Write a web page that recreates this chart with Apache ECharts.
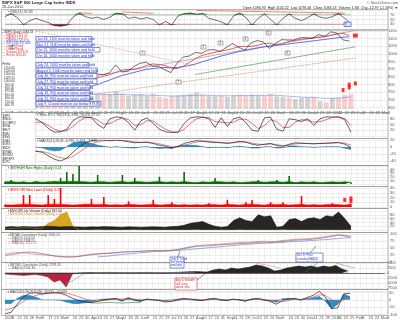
<!DOCTYPE html>
<html><head><meta charset="utf-8">
<script src="https://cdn.jsdelivr.net/npm/echarts@6.0.0/dist/echarts.min.js"></script>
<style>html,body{margin:0;padding:0;background:#fff}#c{width:400px;height:320px}</style>
</head><body><div id="c"></div>
<script>
// ---------- data (weekly) ----------
const weekLabels = ['2009','5','12','20','26','Feb','9','17','23','Mar','9','16','23','30','Apr','13','20','27','May','11','18','26','Jun','8','15','22','29','Jul','13','20','27','Aug','10','17','24','31','Sep','14','21','28','Oct','12','19','26','Nov','9','16','23','30','Dec','14','21','28','2010','11','19','25','Feb','8','16','22','Mar','8'];
const rsi = [62,74,58,28,45,55,45,38,24,22, 26,60,76,62,55,60,50,60,76,74, 55,60,52,58,50,28,42,27,65,74, 77,72,75,55,48,40,28,65,76,58, 27,55,73,50,28,55,73,55,45,58, 73,60,55,62,75,55,32];
const rsiTrend1 = [[12,79],[14,75]];
const rsiTrend2 = [[19,82],[24,76]];
const rsiTrend3 = [[31,88],[55,77]];
const closePx = [931.8,890.4,850.1,832.0,825.9,868.6,826.8,770.1,735.1,683.4, 756.6,768.5,815.9,842.5,856.6,869.6,866.2,877.5,929.2,882.9, 887.0,919.1,940.1,946.2,921.2,918.9,896.4,879.1,940.4,979.3, 987.5,1010.5,1004.1,1026.1,1028.9,1016.4,1042.7,1068.3,1044.4,1025.2, 1071.5,1087.7,1079.6,1036.2,1069.3,1093.5,1091.4,1091.5,1106.0,1106.4, 1102.5,1126.5,1115.1,1145.0,1136.0,1091.8,1084.5];
const maFast = [895,905,900,880,860,850,845,835,805,760, 735,740,755,790,820,845,855,865,880,895, 900,900,910,925,935,932,925,910,905,920, 945,970,990,1000,1010,1018,1025,1035,1048,1050, 1050,1055,1068,1070,1062,1065,1080,1088,1095,1100, 1104,1108,1112,1120,1130,1135,1120];
const maSlow = [900,895,885,875,865,860,855,845,830,810, 795,785,780,785,790,800,815,830,845,860, 870,880,890,900,905,910,912,910,912,918, 925,935,948,960,972,985,995,1005,1015,1022, 1030,1038,1045,1050,1055,1060,1065,1070,1075,1080, 1085,1090,1095,1100,1105,1110,1112];
const trendGray = [[15,858],[58,1160]];
const trendGreen = [[31,867],[57,1047]];
const trendBrown = [[0,656],[57,974]];
const trendPink = [[5,1150],[31,924]];
const priceMarks = [[55,765],[56,782],[56,800],[57,808]];
const priceTag = [[57,1120]];
const volume = [4.2,5.5,6.0,6.2,5.8,6.0,6.5,7.0,7.5,8.5, 7.8,8.0,6.5,6.8,6.0,6.5,6.8,6.5,7.8,7.0, 6.0,6.5,6.8,6.0,7.0,5.5,5.0,6.0,6.2,6.5, 6.8,7.5,6.5,6.0,5.8,6.0,5.5,6.2,6.5,6.0, 6.5,6.2,6.0,6.8,5.8,5.5,5.2,4.5,5.0,5.2, 5.5,3.5,3.0,5.0,5.2,6.5,6.8];
const volumeMA = [5.5,5.6,5.8,6.0,6.1,6.2,6.3,6.5,6.8,7.0, 7.2,7.3,7.2,7.0,6.8,6.7,6.6,6.5,6.6,6.6, 6.5,6.4,6.4,6.3,6.3,6.1,6.0,5.9,5.9,6.0, 6.1,6.2,6.3,6.2,6.1,6.0,6.0,6.0,6.1,6.1, 6.2,6.2,6.2,6.3,6.2,6.0,5.8,5.6,5.4,5.3, 5.3,5.0,4.8,4.9,5.0,5.2,5.5];
const stochK = [70,85,55,30,50,80,60,30,10,12, 25,70,90,88,85,50,30,80,90,85, 60,20,70,85,55,25,12,8,10,55, 85,90,88,80,35,85,40,80,88,60, 20,15,85,88,25,15,80,75,65,80, 45,80,90,88,90,75,10];
const stochD = [65,78,70,45,42,62,62,45,25,15, 18,40,68,85,88,72,52,55,72,85, 75,45,50,70,68,45,25,12,9,25, 55,80,88,86,65,62,58,62,78,78, 55,28,45,75,65,35,35,62,75,72, 62,65,75,88,88,82,45];
const macd = [5,3,-5,-12,-15,-12,-15,-25,-35,-40, -32,-15,0,12,18,20,20,18,20,18, 15,12,13,14,10,5,2,-3,2,10, 15,18,17,14,13,12,10,13,16,14, 8,5,8,10,4,2,8,12,11,10, 9,10,11,12,13,8,-1];
const macdSignal = [8,6,2,-4,-10,-12,-13,-17,-24,-31, -33,-27,-15,-3,8,15,18,19,19,19, 17,15,13,13,12,9,5,1,0,4, 10,14,16,16,14,13,12,12,14,14, 11,8,7,9,7,4,5,9,10,10, 10,10,10,11,12,11,6];
const macdHist = [-3,-3,-7,-8,-5,0,-2,-8,-11,-9, 1,12,15,15,10,5,2,-1,1,-1, -2,-3,0,1,-2,-4,-3,-4,2,6, 5,4,1,-2,-1,-1,-2,1,2,0, -3,-3,1,1,-3,-2,3,3,1,0, -1,0,1,1,1,-3,-7];
const greenBars = [6,11,5,6,4,7,5,6,8,17, 33,28,50,6,5,25,6,5,6,25, 5,17,6,5,6,20,5,6,5,33, 5,4,6,5,17,6,5,6,4,5, 6,11,5,6,11,5,22,4,6,5, 6,4,5,6,5,6,5];
const redBars = [5,4,5,25,25,5,4,25,17,40, 5,4,5,6,17,5,21,4,5,4, 12,5,4,5,15,4,5,10,4,5, 4,5,4,8,5,4,15,5,4,10, 15,5,4,10,5,10,4,5,23,4, 5,4,5,8,5,4,6];
const redMarks = [[55,15],[56,18],[56,12]];
const blackArea = [15,18,16,18,17,16,18,20,18,16, 18,17,16,15,17,16,18,17,16,15, 17,16,15,16,17,16,15,18,20,25, 35,40,45,30,20,15,18,50,65,50, 45,80,70,75,15,20,55,60,45,60, 65,55,75,70,95,60,20];
const goldArea = [5,8,10,12,12,8,10,35,50,80, 95,20,0,0,0,3,0,0,0,0, 0,3,0,0,0,0,0,0,0,0, 0,3,0,0,0,0,0,0,3,0, 0,0,0,0,0,3,0,0,0,0, 0,0,0,0,0,0,0];
const adBlack = [24,26,30,34,36,34,30,26,22,20, 19,18,20,23,26,28,30,31,33,35, 36,37,38,39,40,40,41,42,44,48, 52,56,57,58,60,62,63,64,66,67, 68,70,71,70,72,74,76,78,79,80, 82,85,88,92,96,93,89];
const adRed = [28,32,34,33,30,28,26,24,21,18, 17,18,21,25,28,30,31,32,34,36, 37,38,39,40,41,40,40,41,45,50, 54,58,60,61,63,64,66,68,70,70, 71,73,74,73,74,77,79,81,82,83, 85,88,91,94,97,95,92];
const adBlue = [null,null,null,null,null,null,null,null,null,null,null,null,null,null,null, 18,20,22,25,27, 29,31,33,35,37,38,39,40,41,43, 45,47,49,51,53,55,57,59,61,63, 64,66,67,68,69,70,72,73,74,76, 77,79,80,82,84,86,86];
const moValues = [-500,-800,-1000,-1200,-1000,-800,-1200,-2000,-4500,-3500, -7000,-500,0,100,200,100,200,300,200,100, 200,100,200,300,200,100,100,200,300,500, 600,700,600,500,1500,2000,1500,2500,2000,2500, 3000,4000,3500,2500,1000,1500,2500,3000,3500,3000, 3500,2800,3500,3000,3800,2000,1000];
const moLine = [null,null,null,null,null,null,null,null,null,null, -5000,-4000,-2000,-300,0,100,200,200,100,100, 200,200,100,200,200,100,100,200,200,300, 300,400];
const moTrendPink = [[41,5000],[45,2500]];
const moTrendGreen = [[49,500],[51,5000]];
const moTrendBlue = [[54,5000],[57,2500]];
const oscBlack = [-95,-85,-30,20,45,48,40,45,48,45, 30,10,-5,-15,-20,-10,0,5,10,-5, 15,0,-10,5,0,-5,-15,-10,0,10, 5,0,-5,5,10,0,-5,5,0,-10, 5,10,0,-10,-30,-5,5,10,0,15, 30,58,20,-60,-55,40,45];
const oscRed = [-70,-60,-40,-10,15,30,40,45,48,48, 45,35,20,5,-5,-10,-5,0,5,5, 5,5,0,0,0,-2,-8,-10,-5,3, 5,3,0,0,5,3,0,2,2,-3, 0,5,3,-3,-15,-12,-5,3,3,8, 18,35,30,0,-25,0,25];
const oscHist = [-25,-25,10,30,30,18,0,0,0,-3, -15,-25,-25,-20,-15,0,5,5,5,-10, 10,-5,-10,5,0,-3,-7,0,5,7, 0,-3,-5,5,5,-3,-5,3,-2,-7, 5,5,-3,-7,-15,7,10,7,-3,7, 12,23,-10,-60,-30,40,20];
const oscGreen = [null,null,null,null,null,null,null,null,null,null,null,null,null,null, -20,-22,-20,-18,-20,-22,-20,-18,-20];

// ---------- layout ----------
const P = [
  {top:10, h:19, min:10, max:90, iv:20, hide:[10,90]},
  {top:31, h:76.7, min:650, max:1150, iv:50},
  {top:87, h:22, min:0, max:10, noY:true, labels:true, noSplitX:true},
  {top:113, h:23, min:-10, max:110, iv:30, hide:[-10,110]},
  {top:140, h:21, min:-40, max:20, iv:20},
  {top:166, h:18, min:0, max:50, iv:10},
  {top:188, h:19, min:0, max:40, iv:10},
  {top:211, h:19, min:0, max:100, iv:20},
  {top:234, h:28, min:0, max:100, iv:25},
  {top:263, h:25, min:-7500, max:5000, iv:2500},
  {top:291, h:24, min:-100, max:60, iv:50, labels:true}
];
const grids=[], xAxes=[], yAxes=[];
P.forEach((p,i)=>{
  grids.push({left:5, right:12, top:p.top, height:p.h});
  xAxes.push({type:'category', gridIndex:i, data:weekLabels, boundaryGap:false,
    axisLine:{show:false}, axisTick:{show:false},
    axisLabel:{show:!!p.labels, interval:0, fontSize:4, color:'#555', align:'left', margin:1.5},
    splitLine:{show:!p.noSplitX, interval:0, lineStyle:{color:'#e2e2e2', width:0.5}}});
  yAxes.push({type:'value', gridIndex:i, position:'right', min:p.min, max:p.max, interval:p.iv, show:!p.noY,
    axisLine:{show:false}, axisTick:{show:false},
    axisLabel:{fontSize:4, color:'#555', margin:2, formatter:v => (p.hide && p.hide.includes(v)) ? '' : String(v)},
    splitLine:{lineStyle:{color:'#d8d8d8', width:0.5}}});
});
const L = (g, data, color, w, extra) => Object.assign({type:'line', xAxisIndex:g, yAxisIndex:g, data, symbol:'none',
  lineStyle:{color, width:w}, itemStyle:{color}, silent:true}, extra || {});
const A = (g, data, color, lineColor, extra) => L(g, data, lineColor, 0.5, Object.assign({areaStyle:{color, opacity:1}}, extra || {}));

const series = [
  // RSI
  L(0, rsi.map(()=>70), '#000', 0, {stack:'g', lineStyle:{width:0}}),
  L(0, rsi.map(v=>Math.max(0, v-70)), '#2f7d2f', 0.4, {stack:'g', areaStyle:{color:'#4b9a4b', opacity:1}}),
  L(0, rsi.map(v=>Math.min(v,30)), '#000', 0, {stack:'r', lineStyle:{width:0}}),
  L(0, rsi.map(v=>30-Math.min(v,30)), '#6b1a1a', 0.4, {stack:'r', areaStyle:{color:'#8b2020', opacity:1}}),
  L(0, rsi, '#333', 0.7),
  L(0, rsiTrend1, '#e03030', 0.6), L(0, rsiTrend2, '#e03030', 0.6), L(0, rsiTrend3, '#e03030', 0.6),
  // Volume overlay
  {type:'bar', xAxisIndex:2, yAxisIndex:2, data:volume, barWidth:'80%', silent:true, z:1,
    itemStyle:{color:p => (p.dataIndex>0 && closePx[p.dataIndex] < closePx[p.dataIndex-1]) ? 'rgba(240,150,150,0.45)' : 'rgba(150,150,150,0.4)'}},
  L(2, volumeMA, '#6f8fd8', 0.6, {z:1}),
  // Price
  L(1, trendBrown, '#b06a4a', 0.6, {lineStyle:{color:'#b06a4a', width:0.6, type:[1.5,1]}}),
  L(1, trendGreen, '#3a8a3a', 0.6),
  L(1, trendGray, '#888', 0.6),
  L(1, trendPink, '#e88', 0.6, {lineStyle:{color:'#e88', width:0.6, type:[2,1]}}),
  L(1, maSlow, '#3b4fd1', 0.8),
  L(1, maFast, '#e8303a', 0.8),
  L(1, closePx, '#111', 0.6),
  {type:'scatter', xAxisIndex:1, yAxisIndex:1, data:priceMarks, symbol:'rect', symbolSize:[3,4], itemStyle:{color:'#f00'}, silent:true},
  {type:'scatter', xAxisIndex:1, yAxisIndex:1, data:priceTag, symbol:'rect', symbolSize:[5,4], itemStyle:{color:'#f00'}, silent:true},
  // Stochastics
  L(3, stochD, '#e03030', 0.7), L(3, stochK, '#222', 0.7),
  // MACD
  A(4, macdHist, '#2b8ec8', '#1b5e8c'),
  L(4, macdSignal, '#e05050', 0.7), L(4, macd, '#222', 0.7),
  // green bars
  A(5, greenBars.map(v=>Math.min(v,7)), '#0b6b0b', '#0b6b0b'),
  {type:'bar', xAxisIndex:5, yAxisIndex:5, data:greenBars, barWidth:1.6, itemStyle:{color:'#0b6b0b'}, silent:true},
  // red bars
  A(6, redBars.map(v=>Math.min(v,6)), '#f00', '#f00'),
  {type:'bar', xAxisIndex:6, yAxisIndex:6, data:redBars, barWidth:1.6, itemStyle:{color:'#f00'}, silent:true},
  {type:'scatter', xAxisIndex:6, yAxisIndex:6, data:redMarks, symbol:'rect', symbolSize:[3,4], itemStyle:{color:'#f00'}, silent:true},
  // up/down volume
  A(7, goldArea, '#d9a520', '#c8951a'),
  A(7, blackArea, '#262626', '#111'),
  // breadth lines
  L(8, adBlue, '#6070d0', 0.6), L(8, adRed, '#e06060', 0.6), L(8, adBlack, '#666', 0.6),
  // MO
  A(9, moValues.map(v=>Math.min(v,0)), '#b5243f', '#8a1a30'),
  A(9, moValues.map(v=>Math.max(v,0)), '#262626', '#111', {markLine:{symbol:'none', silent:true, label:{show:false}, lineStyle:{color:'#333', width:0.7, type:'solid'}, data:[{yAxis:0}]}}),
  L(9, moLine, '#7a8fb8', 0.6),
  L(9, moTrendPink, '#e88', 0.6), L(9, moTrendGreen, '#3a8a3a', 0.6), L(9, moTrendBlue, '#7a8fb8', 0.6),
  // osc
  A(10, oscHist, '#2b8ec8', '#1b5e8c'),
  L(10, oscGreen, '#3a9a3a', 0.7),
  L(10, oscRed, '#e05050', 0.7), L(10, oscBlack, '#222', 0.7)
];

// ---------- texts & frames ----------
const FF = '"Liberation Sans", Arial, sans-serif';
const G = [];
const txt = (x, y, text, size, fill, extra, weight) => G.push({type:'text', x, y, z:100, silent:true,
  style:Object.assign({text, font: (weight ? weight + ' ' : '') + size + 'px ' + FF, fill, verticalAlign:'top'}, (extra||{}))});
const rect = (x, y, w, h, fill, stroke, lw) => G.push({type:'rect', z:99, silent:true, shape:{x, y, width:w, height:h}, style:{fill, stroke, lineWidth:lw||0.5}});
const frames = [[9.5,30],[30,112.5],[112.5,138.5],[138.5,165.5],[165.5,186.5],[186.5,208.5],[208.5,232.5],[232.5,262.5],[262.5,289.5],[289.5,315.5]];
frames.forEach(f => G.push({type:'rect', z:98, silent:true, shape:{x:1.5, y:f[0], width:386.5, height:f[1]-f[0]}, style:{fill:'none', stroke:'#8a8a8a', lineWidth:0.6}}));

txt(2, 0.5, '$SPX S&P 500 Large Cap Index INDX', 4.2, '#222', null, 'bold');
txt(2, 5, '28-Jan-2010', 3.8, '#444');
txt(398, 0.5, '\u00a9 StockCharts.com', 3.6, '#555', {align:'right'});
txt(398, 5.5, 'Open 1096.93  High 1100.22  Low 1078.46  Close 1084.53  Volume 1.3B  Chg -12.97 (-1.18%) \u25bc', 3.6, '#222', {align:'right'});
txt(8, 10.2, '\u25aa RSI(14) 32.39', 3.6, '#444');

// price legend block
rect(1.8, 30.3, 33.5, 79, '#fff', '#bbb', 0.4);
txt(2.5, 31, '\u25aa $SPX (Daily) 1084.53', 3, '#222');
txt(2.5, 33.8, '\u2014 MA(20) 1121.37\n\u2014 MA(50) 1114.52', 3, '#e03030', {lineHeight:2.8});
txt(2.5, 39.4, '\u2014 MA(200) 1013.10\n\u2014 Vol 1,326,371,840', 3, '#3b4fd1', {lineHeight:2.8});
txt(2.5, 45, '\u2014 Upper Trend\n\u2014 Lower Trend\n\u2014 Support 1029.15\n\u2014 Resist 1150.45', 3, '#e03030', {lineHeight:2.8});
txt(2.5, 62.5, 'Prefix', 3, '#222');
txt(4, 66, '1150.45\n1100.00\n1050.00\n1029.15\n1000.00\n 950.00\n 900.00\n 879.86\n 850.00\n 800.00\n 750.00\n 666.79', 3, '#333', {lineHeight:3.4});

// annotation boxes on price panel
const notes = [
  [36.5,'Jan 18, 1150 must be taken and held',56],
  [42,'Nov 21, 1100 must be taken and held',56],
  [47.5,'Oct 21, 1050 must be taken and held',64],
  [53,'Oct 16, 1000 must be taken and held',56],
  [62.5,'July 24, 1000 must be taken and held',53],
  [68,'August 3, 1000 must be taken and held',61],
  [73.5,'July 30, 950 must be taken and held',61],
  [79,'July 27, 950 must be taken and held',61],
  [85,'July 24, 950 must be taken and held',54],
  [90.5,'July 16, 900 must be taken and held',54],
  [96,'July 15, 900 must be taken and held',54],
  [101.5,'July 9, Closed must be put below 879.86',65]
];
notes.forEach(n => { rect(36, n[0], n[2], 4.6, '#fff', '#3344bb', 0.6); txt(37, n[0]+0.6, n[1], 3.5, '#2233cc'); });
[[140,51],[201,45],[218,41],[243,37],[266,31],[285,51],[176,80],[10,45]].forEach((b,i) => { rect(b[0], b[1], 5, 4, '#fff', '#555', 0.5); txt(b[0]+1.4, b[1]+0.4, String(i+1), 3, '#333'); });
rect(344, 22, 7, 4.5, '#dfe6ff', '#3344bb', 0.6); txt(345, 22.6, '8 \u2192', 3, '#2233cc');

// left box stoch / macd
rect(1.8, 113, 33.5, 52, '#fff', '#bbb', 0.4);
txt(2.5, 114, '$SPX\n$INDU\n$COMPQ\n$NYA\n$RUT\n$MID\n$SML\n$XAX\n$OEX\n$NDX\n$NYAD\n$NYMO\n$BPSPX\n$CPC', 3, '#333', {lineHeight:3.6});
txt(37, 113.4, '\u25aa Slow STO %K(14,3) 8.88, %D(3) 17.52', 3.5, '#444');
txt(37, 139.2, '\u25aa MACD(12,26,9) -0.785, 7.153, -7.938', 3.5, '#444');
txt(8, 165.8, '\u25aa $NYHGH New Highs (Daily) 3.13', 3.5, '#0b6b0b');
txt(8, 187.6, '\u25aa $NYLOW New Lows (Daily) 5.13', 3.5, '#e00');
txt(8, 209.4, '\u25aa $NYUPV Up Volume (Daily) 187.00', 3.3, '#222');
txt(8, 212.6, '\u25aa $NYDNV Down Volume (Daily) 0.00', 3.3, '#c8951a');
txt(8, 233.4, '\u25aa $NYAD Cumulative (Daily) 1305.24\n\u2014 MA(20) 1420.06\n\u2014 MA(50) 1388.55', 3.2, '#555', {lineHeight:2.9});
txt(8, 242.1, '\u2014 MA(150) 1211.71', 3.2, '#e05050');
txt(8, 263.4, '\u25aa $NYMO Cumulative (Daily) 2378.45\n\u2014 MA(10) 2701.30', 3.2, '#555', {lineHeight:2.9});
txt(8, 290.2, '\u25aa MACD(12,26,9) 9.218, 24.915, -15.697', 3.3, '#444');

// notes in lower panels
rect(170, 257, 14, 11, '#fff', '#3344bb', 0.6); txt(171, 257.6, 'July 8, Trend\nline broken\nand held', 2.8, '#2233cc', {lineHeight:3.2});
G.push({type:'line', z:99, silent:true, shape:{x1:178, y1:257, x2:180, y2:251}, style:{stroke:'#333', lineWidth:0.5}});
rect(296, 253, 27, 9, '#fff', '#3344bb', 0.6); txt(297, 253.7, 'Dec 8, Price\ncrossing MA(20)', 2.9, '#2233cc', {lineHeight:3.6});
G.push({type:'line', z:99, silent:true, shape:{x1:310, y1:253, x2:316, y2:246}, style:{stroke:'#333', lineWidth:0.5}});
rect(175, 278, 22, 12, '#fff', '#d03030', 0.6); txt(176, 278.6, 'Aug 6, Breadth\nstill rising\nabove zero', 2.8, '#d03030', {lineHeight:3.5});
G.push({type:'line', z:99, silent:true, shape:{x1:197, y1:280, x2:206, y2:273}, style:{stroke:'#333', lineWidth:0.5}});

const chart = echarts.init(document.getElementById('c'), null, {renderer:'canvas'});
chart.setOption({animation:false, backgroundColor:'#fff', grid:grids, xAxis:xAxes, yAxis:yAxes, series, graphic:{elements:G}});
</script></body></html>
